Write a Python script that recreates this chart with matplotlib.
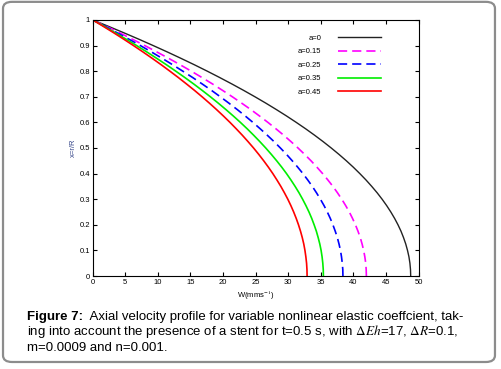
import numpy as np
import matplotlib.pyplot as plt
from matplotlib.patches import FancyBboxPatch

plt.rcParams['font.family'] = ['Liberation Sans', 'DejaVu Sans']
plt.rcParams['mathtext.fontset'] = 'stix'

# radial position x = r/R
r = [0, 0.025, 0.05, 0.075, 0.1, 0.125, 0.15, 0.175, 0.2, 0.225,
     0.25, 0.275, 0.3, 0.325, 0.35, 0.375, 0.4, 0.425, 0.45, 0.475,
     0.5, 0.525, 0.55, 0.575, 0.6, 0.625, 0.65, 0.675, 0.7, 0.725,
     0.75, 0.775, 0.8, 0.825, 0.85, 0.875, 0.9, 0.925, 0.95, 0.975, 1.0]

# axial velocity W (mm/s) for each a
w_a0 = [48.80, 48.77, 48.68, 48.53, 48.31, 48.04, 47.70, 47.31, 46.85, 46.33,
        45.75, 45.11, 44.41, 43.65, 42.82, 41.94, 40.99, 39.99, 38.92, 37.79,
        36.60, 35.35, 34.04, 32.67, 31.23, 29.74, 28.18, 26.57, 24.89, 23.15,
        21.35, 19.49, 17.57, 15.59, 13.54, 11.44, 9.27, 7.05, 4.76, 2.41, 0]
w_a015 = [42.00, 41.97, 41.90, 41.76, 41.58, 41.34, 41.06, 40.71, 40.32, 39.87,
          39.38, 38.82, 38.22, 37.56, 36.86, 36.09, 35.28, 34.41, 33.50, 32.52,
          31.50, 30.42, 29.30, 28.11, 26.88, 25.59, 24.26, 22.86, 21.42, 19.92,
          18.38, 16.77, 15.12, 13.41, 11.66, 9.84, 7.98, 6.06, 4.10, 2.07, 0]
w_a025 = [38.40, 38.38, 38.30, 38.18, 38.02, 37.80, 37.54, 37.22, 36.86, 36.46,
          36.00, 35.50, 34.94, 34.34, 33.70, 33.00, 32.26, 31.46, 30.62, 29.74,
          28.80, 27.82, 26.78, 25.70, 24.58, 23.40, 22.18, 20.90, 19.58, 18.22,
          16.80, 15.34, 13.82, 12.26, 10.66, 9.00, 7.30, 5.54, 3.74, 1.90, 0]
w_a035 = [35.40, 35.38, 35.31, 35.20, 35.05, 34.85, 34.60, 34.32, 33.98, 33.61,
          33.19, 32.72, 32.21, 31.66, 31.06, 30.42, 29.74, 29.01, 28.23, 27.41,
          26.55, 25.64, 24.69, 23.70, 22.66, 21.57, 20.44, 19.27, 18.05, 16.79,
          15.49, 14.14, 12.74, 11.31, 9.82, 8.30, 6.73, 5.11, 3.45, 1.75, 0]
w_a045 = [32.90, 32.88, 32.82, 32.71, 32.57, 32.39, 32.16, 31.89, 31.58, 31.23,
          30.84, 30.41, 29.94, 29.42, 28.87, 28.27, 27.64, 26.96, 26.24, 25.48,
          24.68, 23.83, 22.95, 22.02, 21.06, 20.05, 19.00, 17.91, 16.78, 15.61,
          14.39, 13.14, 11.84, 10.51, 9.13, 7.71, 6.25, 4.75, 3.21, 1.62, 0]

labels = ['a=0', 'a=0.15', 'a=0.25', 'a=0.35', 'a=0.45']

fig = plt.figure(figsize=(5.02, 3.69), dpi=100)

# rounded frame around figure + caption
box = FancyBboxPatch((0.006, 0.019), 0.980, 0.976,
                     boxstyle='round,pad=0,rounding_size=0.018',
                     transform=fig.transFigure, facecolor='white',
                     edgecolor='#8c8c8c', linewidth=1.6, zorder=-1)
fig.patches.append(box)

ax = fig.add_axes([0.1847, 0.252, 0.649, 0.694])
ax.plot(w_a0, r, color='#222222', lw=1.0, label=labels[0])
ax.plot(w_a015, r, color='#ff00ff', lw=1.2, dashes=(5.5, 3), label=labels[1])
ax.plot(w_a025, r, color='#0000ff', lw=1.2, dashes=(5.5, 3), label=labels[2])
ax.plot(w_a035, r, color='#00ee00', lw=1.2, label=labels[3])
ax.plot(w_a045, r, color='#ff0000', lw=1.2, label=labels[4])

ax.set_xlim(0, 50)
ax.set_ylim(0, 1)
ax.set_xticks(np.arange(0, 51, 5))
ax.set_yticks(np.arange(0, 1.01, 0.1))
ax.set_yticklabels(['0', '0.1', '0.2', '0.3', '0.4', '0.5', '0.6', '0.7', '0.8', '0.9', '1'])
ax.tick_params(direction='in', top=True, right=True, labelsize=5.5, length=3, width=0.8, pad=2)
for s in ax.spines.values():
    s.set_linewidth(0.8)
ax.set_xlabel('W(mms$^{-1}$)', fontsize=5.5, labelpad=2)
ax.set_ylabel('x=r/R', fontsize=5.5, labelpad=2, color='#334488')

ax.legend(loc='upper right', bbox_to_anchor=(0.906, 0.97), frameon=False,
          markerfirst=False, fontsize=5.5, handlelength=5.6, labelspacing=0.8,
          handletextpad=2.2)

# caption
cap = 9.5
t1 = fig.text(0.053, 0.1328, 'Figure 7:', fontsize=cap, fontweight='bold', va='baseline')
ax.annotate('  Axial velocity profile for variable nonlinear elastic coeffcient, tak-',
            xy=(1, 0), xycoords=t1, va='bottom', fontsize=cap)
fig.text(0.053, 0.0913, r'ing into account the presence of a stent for t=0.5 s, with $\Delta Eh$=17, $\Delta R$=0.1,',
         fontsize=cap, va='baseline')
fig.text(0.053, 0.0488, 'm=0.0009 and n=0.001.', fontsize=cap, va='baseline')

fig.savefig('out.png', dpi=100)
